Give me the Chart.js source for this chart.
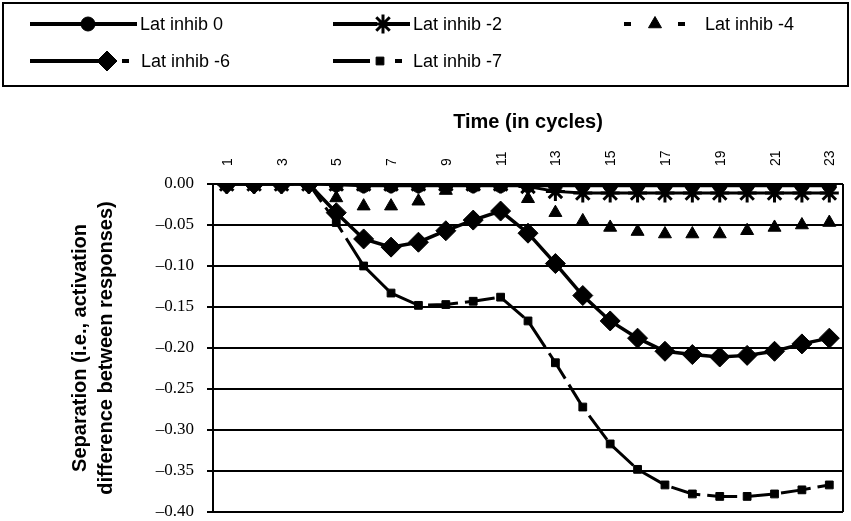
<!DOCTYPE html>
<html>
<head>
<meta charset="utf-8">
<script src="https://cdn.jsdelivr.net/npm/chart.js@4/dist/chart.umd.min.js"></script>
<style>
  body { margin: 0; background: #fff; }
  canvas { display: block; }
</style>
</head>
<body>
<canvas id="sepChart" width="851" height="521"></canvas>
<script>
// Data

const cycles = ["1","2","3","4","5","6","7","8","9","10","11","12","13","14","15","16","17","18","19","20","21","22","23"];

const inhib0 = [0, 0, 0, 0, -0.001, -0.002, -0.002, -0.002, -0.002, -0.002, -0.002, -0.002,
                -0.002, -0.002, -0.002, -0.002, -0.002, -0.002, -0.002, -0.002, -0.002, -0.002, -0.002];
const inhib2 = [0, 0, 0, 0, 0, 0, 0, 0, 0, 0, 0, -0.003,
                -0.009, -0.011, -0.011, -0.011, -0.011, -0.011, -0.011, -0.011, -0.011, -0.011, -0.011];
const inhib4 = [0, 0, 0, 0, -0.017, -0.027, -0.027, -0.021, -0.008, -0.002, -0.002, -0.018,
                -0.035, -0.045, -0.053, -0.058, -0.061, -0.061, -0.061, -0.057, -0.053, -0.050, -0.047];
const inhib6 = [0, 0, 0, 0, -0.035, -0.067, -0.077, -0.071, -0.057, -0.044, -0.033, -0.060,
                -0.097, -0.136, -0.167, -0.188, -0.204, -0.208, -0.211, -0.209, -0.204, -0.195, -0.188];
const inhib7 = [0, 0, 0, 0, -0.047, -0.100, -0.133, -0.148, -0.147, -0.143, -0.138, -0.167,
                -0.218, -0.272, -0.317, -0.348, -0.367, -0.378, -0.381, -0.381, -0.378, -0.373, -0.367];

const seriesLabels = ["Lat inhib 0", "Lat inhib -2", "Lat inhib -4", "Lat inhib -6", "Lat inhib -7"];

const SANS = "'Liberation Sans', Arial, sans-serif";
const SERIF = "'Liberation Serif', 'Times New Roman', serif";

// legend sample geometry (drawn by hand, Excel style box)
const legendSpec = [
    { y: 24, x0: 30,  x1: 137, mx: 88,  tx: 140, dash: [] },
    { y: 24, x0: 333, x1: 410, mx: 383, tx: 413, dash: [44, 6, 28] },
    { y: 24, x0: 624, x1: 688, mx: 655, tx: 705, dash: [7, 20] },
    { y: 61, x0: 30,  x1: 131, mx: 107, tx: 141, dash: [68, 24, 7, 30] },
    { y: 61, x0: 333, x1: 402, mx: 380, tx: 413, dash: [37, 25, 7, 30] }
];

function makeSet(i, data, style, radius, extra) {
    return Object.assign({
        label: seriesLabels[i],
        data: data,
        borderColor: "#000",
        backgroundColor: "#000",
        pointBackgroundColor: "#000",
        pointBorderColor: "#000",
        borderWidth: 3,
        pointStyle: style,
        pointRadius: radius,
        pointBorderWidth: 1,
        tension: 0
    }, extra || {});
}

// LEGEND + FRAME
const framePlugin = {
    id: "frame",
    afterDraw(chart) {
        const ctx = chart.ctx;
        const area = chart.chartArea;

        ctx.save();
        // right border of the plot
        ctx.strokeStyle = "#000";
        ctx.lineWidth = 2;
        ctx.beginPath();
        ctx.moveTo(area.right, area.top);
        ctx.lineTo(area.right, area.bottom);
        ctx.stroke();

        // legend box
        ctx.strokeRect(3, 3, 845, 83);

        chart.data.datasets.forEach((ds, i) => {
            const s = legendSpec[i];
            ctx.setLineDash(s.dash);
            ctx.lineWidth = 4;
            ctx.beginPath();
            ctx.moveTo(s.x0, s.y);
            ctx.lineTo(s.x1, s.y);
            ctx.stroke();
            ctx.setLineDash([]);

            ctx.fillStyle = "#000";
            ctx.strokeStyle = "#000";
            ctx.lineWidth = ds.pointBorderWidth;
            Chart.helpers.drawPoint(ctx, {
                pointStyle: ds.pointStyle,
                radius: ds.pointRadius,
                rotation: 0,
                borderWidth: ds.pointBorderWidth
            }, s.mx, s.y);

            ctx.font = "18px " + SANS;
            ctx.textBaseline = "middle";
            ctx.textAlign = "left";
            ctx.fillText(ds.label, s.tx, s.y + 1);
        });
        ctx.restore();
    }
};

const ctx = document.getElementById("sepChart");

new Chart(ctx, {
    type: "line",
    data: {
        labels: cycles,
        datasets: [
            makeSet(0, inhib0, "circle", 7),
            makeSet(1, inhib2, "star", 9.5, { pointBorderWidth: 3 }),
            makeSet(2, inhib4, "triangle", 7.5, { showLine: false }),
            makeSet(3, inhib6, "rectRot", 10, { borderWidth: 3.5 }),
            makeSet(4, inhib7, "rect", 5.5, { borderDash: [30, 7] })
        ]
    },
    options: {
        responsive: false,
        animation: false,
        layout: { autoPadding: false, padding: { top: 91, left: 0, right: 8, bottom: 9 } },
        plugins: {
            legend: { display: false },
            tooltip: { enabled: false }
        },
        scales: {
            x: {
                position: "top",
                offset: true,
                grid: { display: false, drawTicks: false },
                border: { display: false },
                ticks: {
                    autoSkip: false,
                    minRotation: 90,
                    maxRotation: 90,
                    padding: 18,
                    labelOffset: 18,
                    color: "#000",
                    font: { family: SANS, size: 14 },
                    callback: (v, i) => (i % 2 === 0 ? cycles[i] : "")
                },
                title: {
                    display: true,
                    text: "Time (in cycles)",
                    color: "#000",
                    font: { family: SANS, size: 20, weight: "bold" },
                    padding: { top: 19, bottom: 0 }
                },
                afterFit: (scale) => { scale.height = 93; }
            },
            y: {
                min: -0.4,
                max: 0,
                grid: { color: "#000", lineWidth: 2, tickLength: 6 },
                border: { display: true, color: "#000", width: 2 },
                ticks: {
                    stepSize: 0.05,
                    padding: 13,
                    color: "#000",
                    font: { family: SERIF, size: 17 },
                    callback: (v) => (Math.abs(v) < 1e-9 ? "0.00" : "\u2013" + Math.abs(v).toFixed(2))
                },
                title: {
                    display: true,
                    text: ["Separation (i.e., activation", "difference between responses)"],
                    color: "#000",
                    font: { family: SANS, size: 20, weight: "bold", lineHeight: 1.3 },
                    padding: { top: 67, bottom: 0 }
                },
                afterFit: (scale) => {
                    scale.width = 213;
                    scale.paddingTop = 0;
                    scale.paddingBottom = 0;
                }
            }
        }
    },
    plugins: [framePlugin]
});
</script>
</body>
</html>
